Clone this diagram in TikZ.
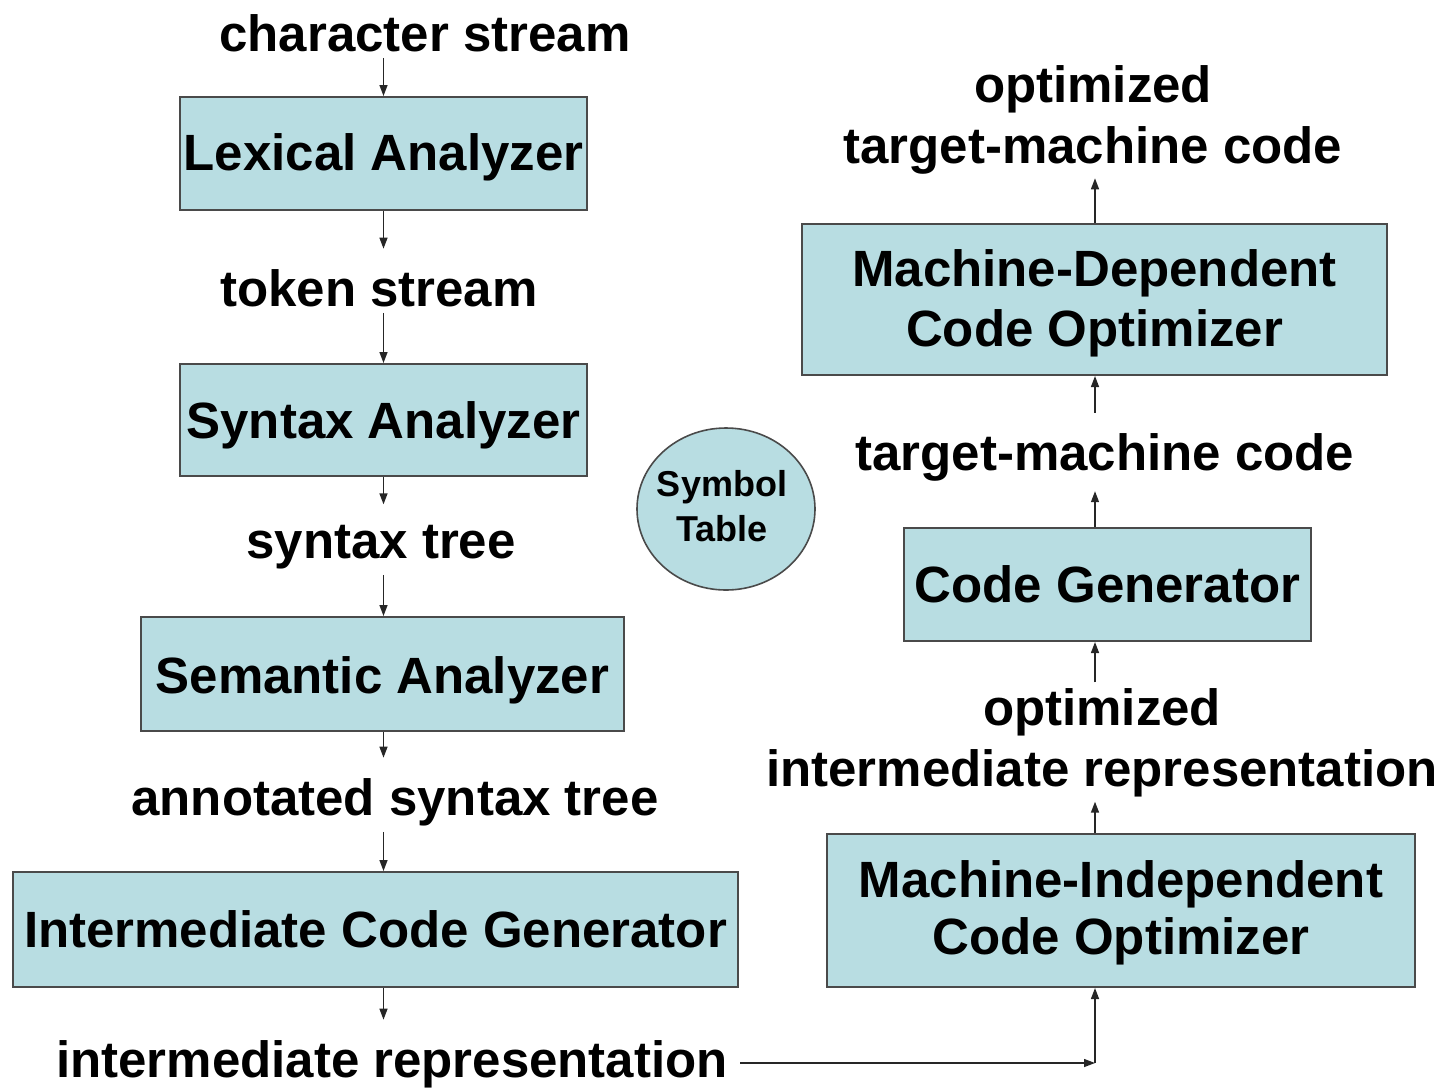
\documentclass[tikz,border=0pt]{standalone}
\usepackage{fontspec}
\setmainfont{Liberation Sans}
\usetikzlibrary{arrows.meta,shapes.geometric}
\definecolor{boxfill}{HTML}{B8DDE2}
\definecolor{boxline}{HTML}{4A4A4A}

\begin{document}
\begin{tikzpicture}[x=0.5pt,y=-0.5pt,
  stage/.style={draw=boxline, line width=1pt, fill=boxfill, inner sep=0pt},
  caption/.style={inner sep=0pt, align=center, font=\bfseries\fontsize{25.5}{30}\selectfont},
  flow/.style={font=\bfseries\fontsize{25.5}{30.5}\selectfont, inner xsep=2pt,
    inner ysep=2pt, align=center},
  arr/.style={-{Triangle[length=5.5pt,width=4pt]}, line width=0.7pt, draw=black!85},
  toward/.style={arr, shorten >=8pt},
  away/.style={arr, shorten <=1pt}]
\useasboundingbox (0,0) rectangle (1442,1089);

% front end (left column, top to bottom)
\node[flow, anchor=base] (cs) at (425,51) {character stream};
\node[stage, minimum width=203.5pt, minimum height=56.5pt] (lex) at (383.5,153.5) {};
\node[caption, anchor=base] (lex-t) at (383.5,170) {Lexical Analyzer};
\node[flow, anchor=base] (tok) at (379,306) {token stream};
\node[stage, minimum width=203.5pt, minimum height=56pt] (syn) at (383.5,420) {};
\node[caption, anchor=base] (syn-t) at (383.5,438) {Syntax Analyzer};
\node[flow, anchor=base] (st) at (381,558) {syntax tree};
\node[stage, minimum width=241.5pt, minimum height=57pt] (sem) at (382.5,674) {};
\node[caption, anchor=base] (sem-t) at (382.5,693) {Semantic Analyzer};
\node[flow, anchor=base] (ast) at (395,815) {annotated syntax tree};
\node[stage, minimum width=362.5pt, minimum height=57.5pt] (icg) at (375.5,929.5) {};
\node[caption, anchor=base] (icg-t) at (375.5,947) {Intermediate Code Generator};
\node[flow, anchor=base] (ir) at (392,1077) {intermediate representation};

% symbol table
\node[ellipse, draw=boxline, line width=0.8pt, fill=boxfill, minimum width=89pt,
  minimum height=81pt, inner sep=0pt] (sym) at (726,509) {};
\node[inner sep=0pt, align=center, font=\bfseries\fontsize{18}{22.5}\selectfont]
  (sym-t) at (722,506.5) {Symbol\\Table};

% back end (right column, bottom to top)
\node[stage, minimum width=294pt, minimum height=76.5pt] (mi) at (1121,910.5) {};
\node[caption, font=\bfseries\fontsize{25.5}{28.5}\selectfont] (mi-t) at (1121,913)
  {Machine-Independent\\Code Optimizer};
\node[flow] (oir) at (1102,743) {optimized\\intermediate representation};
\node[stage, minimum width=203.5pt, minimum height=56.5pt] (cg) at (1107.5,584.5) {};
\node[caption, anchor=base] (cg-t) at (1107.5,602) {Code Generator};
\node[flow, anchor=base] (tmc) at (1105,470) {target-machine code};
\node[stage, minimum width=292.5pt, minimum height=75.5pt] (md) at (1094.5,299.5) {};
\node[caption] (md-t) at (1094.5,303.5) {Machine-Dependent\\Code Optimizer};
\node[flow] (otmc) at (1093,119.5) {optimized\\target-machine code};

\coordinate (turn) at (1095,1063);

% left column connectors
\draw[away] (cs.south -| lex.south) -- (lex.north);
\draw[toward] (lex.south) -- (lex.south |- tok.north);
\draw[away] (tok.south -| syn.south) -- (syn.north);
\draw[toward] (syn.south) -- (syn.south |- st.north);
\draw[away] (st.south -| syn.south) -- (sem.north -| syn.south);
\draw[toward] (sem.south -| syn.south) -- (syn.south |- ast.north);
\draw[away] (ast.south -| syn.south) -- (icg.north -| syn.south);
\draw[toward] (icg.south -| syn.south) -- (syn.south |- ir.north);

% hand-over to the back end
\draw[arr] ([xshift=4pt]ir.east |- turn) -- (turn);
\draw[arr] (turn) -- (mi.south -| turn);

% right column connectors
\draw[arr] (mi.north -| turn) -- (oir.south -| turn);
\draw[away] (oir.north -| turn) -- (cg.south -| turn);
\draw[arr] (cg.north -| turn) -- ([yshift=-3pt]tmc.south -| turn);
\draw[arr, shorten <=8pt] (tmc.north -| turn) -- (md.south -| turn);
\draw[arr] (md.north -| turn) -- (otmc.south -| turn);
\end{tikzpicture}
\end{document}
